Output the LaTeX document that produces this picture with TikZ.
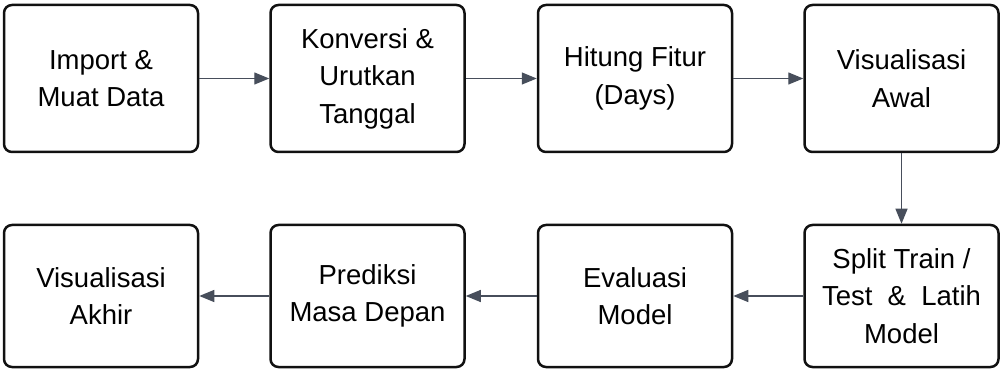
\documentclass[tikz,border=0pt]{standalone}
\usepackage{fontspec}
\setmainfont{Liberation Sans}
\usetikzlibrary{arrows.meta}
\definecolor{boxline}{HTML}{111111}
\definecolor{arrowc}{HTML}{474E5B}
\begin{document}
\begin{tikzpicture}[x=1pt,y=1pt,
  stepbox/.style={draw=boxline, line width=2.5pt, rounded corners=8pt, fill=white,
    minimum width=194pt, align=center, inner sep=0pt,
    font=\fontsize{27.5}{37.5}\selectfont},
  toprow/.style={stepbox, minimum height=147pt},
  botrow/.style={stepbox, minimum height=142pt},
  flow/.style={draw=arrowc, line width=1.3pt, -{Triangle[length=15pt,width=12pt]}}]
\useasboundingbox (0,0) rectangle (1000,369);
\node[toprow] (a) at (101,290.5) {Import \&\\Muat Data};
\node[toprow] (b) at (367.5,290.5) {Konversi \&\\Urutkan\\Tanggal};
\node[toprow] (c) at (635,290.5) {Hitung Fitur\\(Days)};
\node[toprow] (d) at (901.5,290.5) {Visualisasi\\Awal};
\node[botrow] (e) at (901.5,73) {Split Train /\\Test\ \ \&\ \ Latih\\Model};
\node[botrow] (f) at (635,73) {Evaluasi\\Model};
\node[botrow] (g) at (367.5,73) {Prediksi\\Masa Depan};
\node[botrow] (h) at (101,73) {Visualisasi\\Akhir};
\draw[flow] (a) -- (b);
\draw[flow] (b) -- (c);
\draw[flow] (c) -- (d);
\draw[flow] (d) -- (e);
\draw[flow] (e) -- (f);
\draw[flow] (f) -- (g);
\draw[flow] (g) -- (h);
\end{tikzpicture}
\end{document}
